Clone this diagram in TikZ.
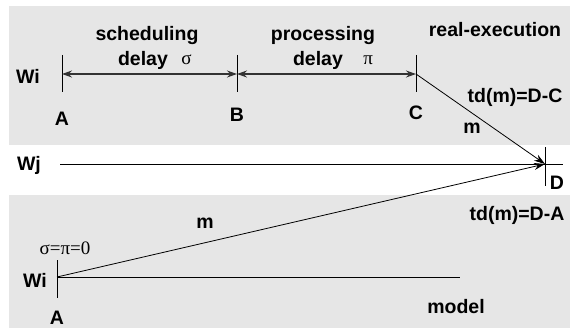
\documentclass[tikz,border=0pt]{standalone}
\usepackage{fontspec}
\setmainfont{Liberation Sans}
\newfontfamily\greekfont{Liberation Serif}
\usetikzlibrary{positioning}
\usetikzlibrary{arrows.meta}
\definecolor{lightbox}{RGB}{230,230,230}
\tikzset{tips=proper}
\tikzset{%
    region/.style={fill=lightbox, draw=none},
    txt/.style={inner sep=0pt, font=\fontsize{19.5}{21}\selectfont\bfseries},
    grk/.style={inner sep=0pt, font=\fontsize{19}{21}\selectfont\greekfont},
    tick/.style={draw, line width=0.9pt},
    timeline/.style={draw, line width=0.9pt},
    delay/.style={draw=black!80, line width=1.1pt, {Stealth[length=10pt,width=7pt]}-{Stealth[length=10pt,width=7pt]}},
    msg/.style={draw, line width=0.8pt, -{Stealth[length=11pt,width=7pt]}}
}

\begin{document}
\begin{tikzpicture}[x=1pt,y=-1pt]
		\useasboundingbox (0,0) rectangle (570,329);

		% shaded panels: real execution (top) and model (bottom)
		\path[region] (9,6) rectangle (570,145);
		\path[region] (9,195) rectangle (570,328);

		% events
		\coordinate (A)   at (62,74);
		\coordinate (B)   at (237,74);
		\coordinate (C)   at (416,74);
		\coordinate (D)   at (545,164);
		\coordinate (Am)  at (57,277);
		\coordinate (wjs) at (60,164);
		\coordinate (wje) at (563,164);
		\coordinate (wie) at (460,277);

		\foreach \ev in {A,B,C} \draw[tick] (\ev) ++(0,-19) -- ++(0,37);
		\draw[tick] (D) ++(0,-17) -- ++(0,39);
		\draw[tick] (Am) ++(0,-17) -- ++(0,38);

		% time lines
		\path[timeline] (wjs) -- (wje);
		\path[timeline] (Am) -- (wie);

		% delays and messages
		\path[delay] (A) -- (B);
		\path[delay] (B) -- (C);
		\path[msg]   (C)  -- (D);
		\path[msg]   (Am) -- (D);

		% process names
		\node[txt] (wi)  at (28,76)  {Wi};
		\node[txt] (wj)  at (29,165) {Wj};
		\node[txt] (wim) at (35,280) {Wi};

		% event names
		\node[txt] (la) at (62,119)  {A};
		\node[txt] (lb) at (237,115) {B};
		\node[txt] (lc) at (416,113) {C};
		\node[txt] (ld) at (557,183) {D};
		\node[txt] (lam) at (57,318) {A};

		% delay labels
		\node[txt] (sched) at (147,36) {scheduling};
		\node[txt] (sdel)  at (143,60) {delay};
		\node[grk] (sig)   [right=13 of sdel] {σ};
		\node[txt] (proc)  at (323,36) {processing};
		\node[txt] (pdel)  at (318,60) {delay};
		\node[grk] (pi)    [right=20 of pdel] {π};
		\node[grk] (zero)  at (65,248) {σ=π=0};

		% messages
		\node[txt] (mtop) at (472,128) {m};
		\node[txt] (mbot) at (205,223) {m};
		\node[txt] (tdc)  at (515,97)  {td(m)=D-C};
		\node[txt] (tda)  at (517,215) {td(m)=D-A};

		% panel titles
		\node[txt] (real)  at (495,30)  {real-execution};
		\node[txt] (model) at (456,307) {model};
	\end{tikzpicture}
\end{document}
